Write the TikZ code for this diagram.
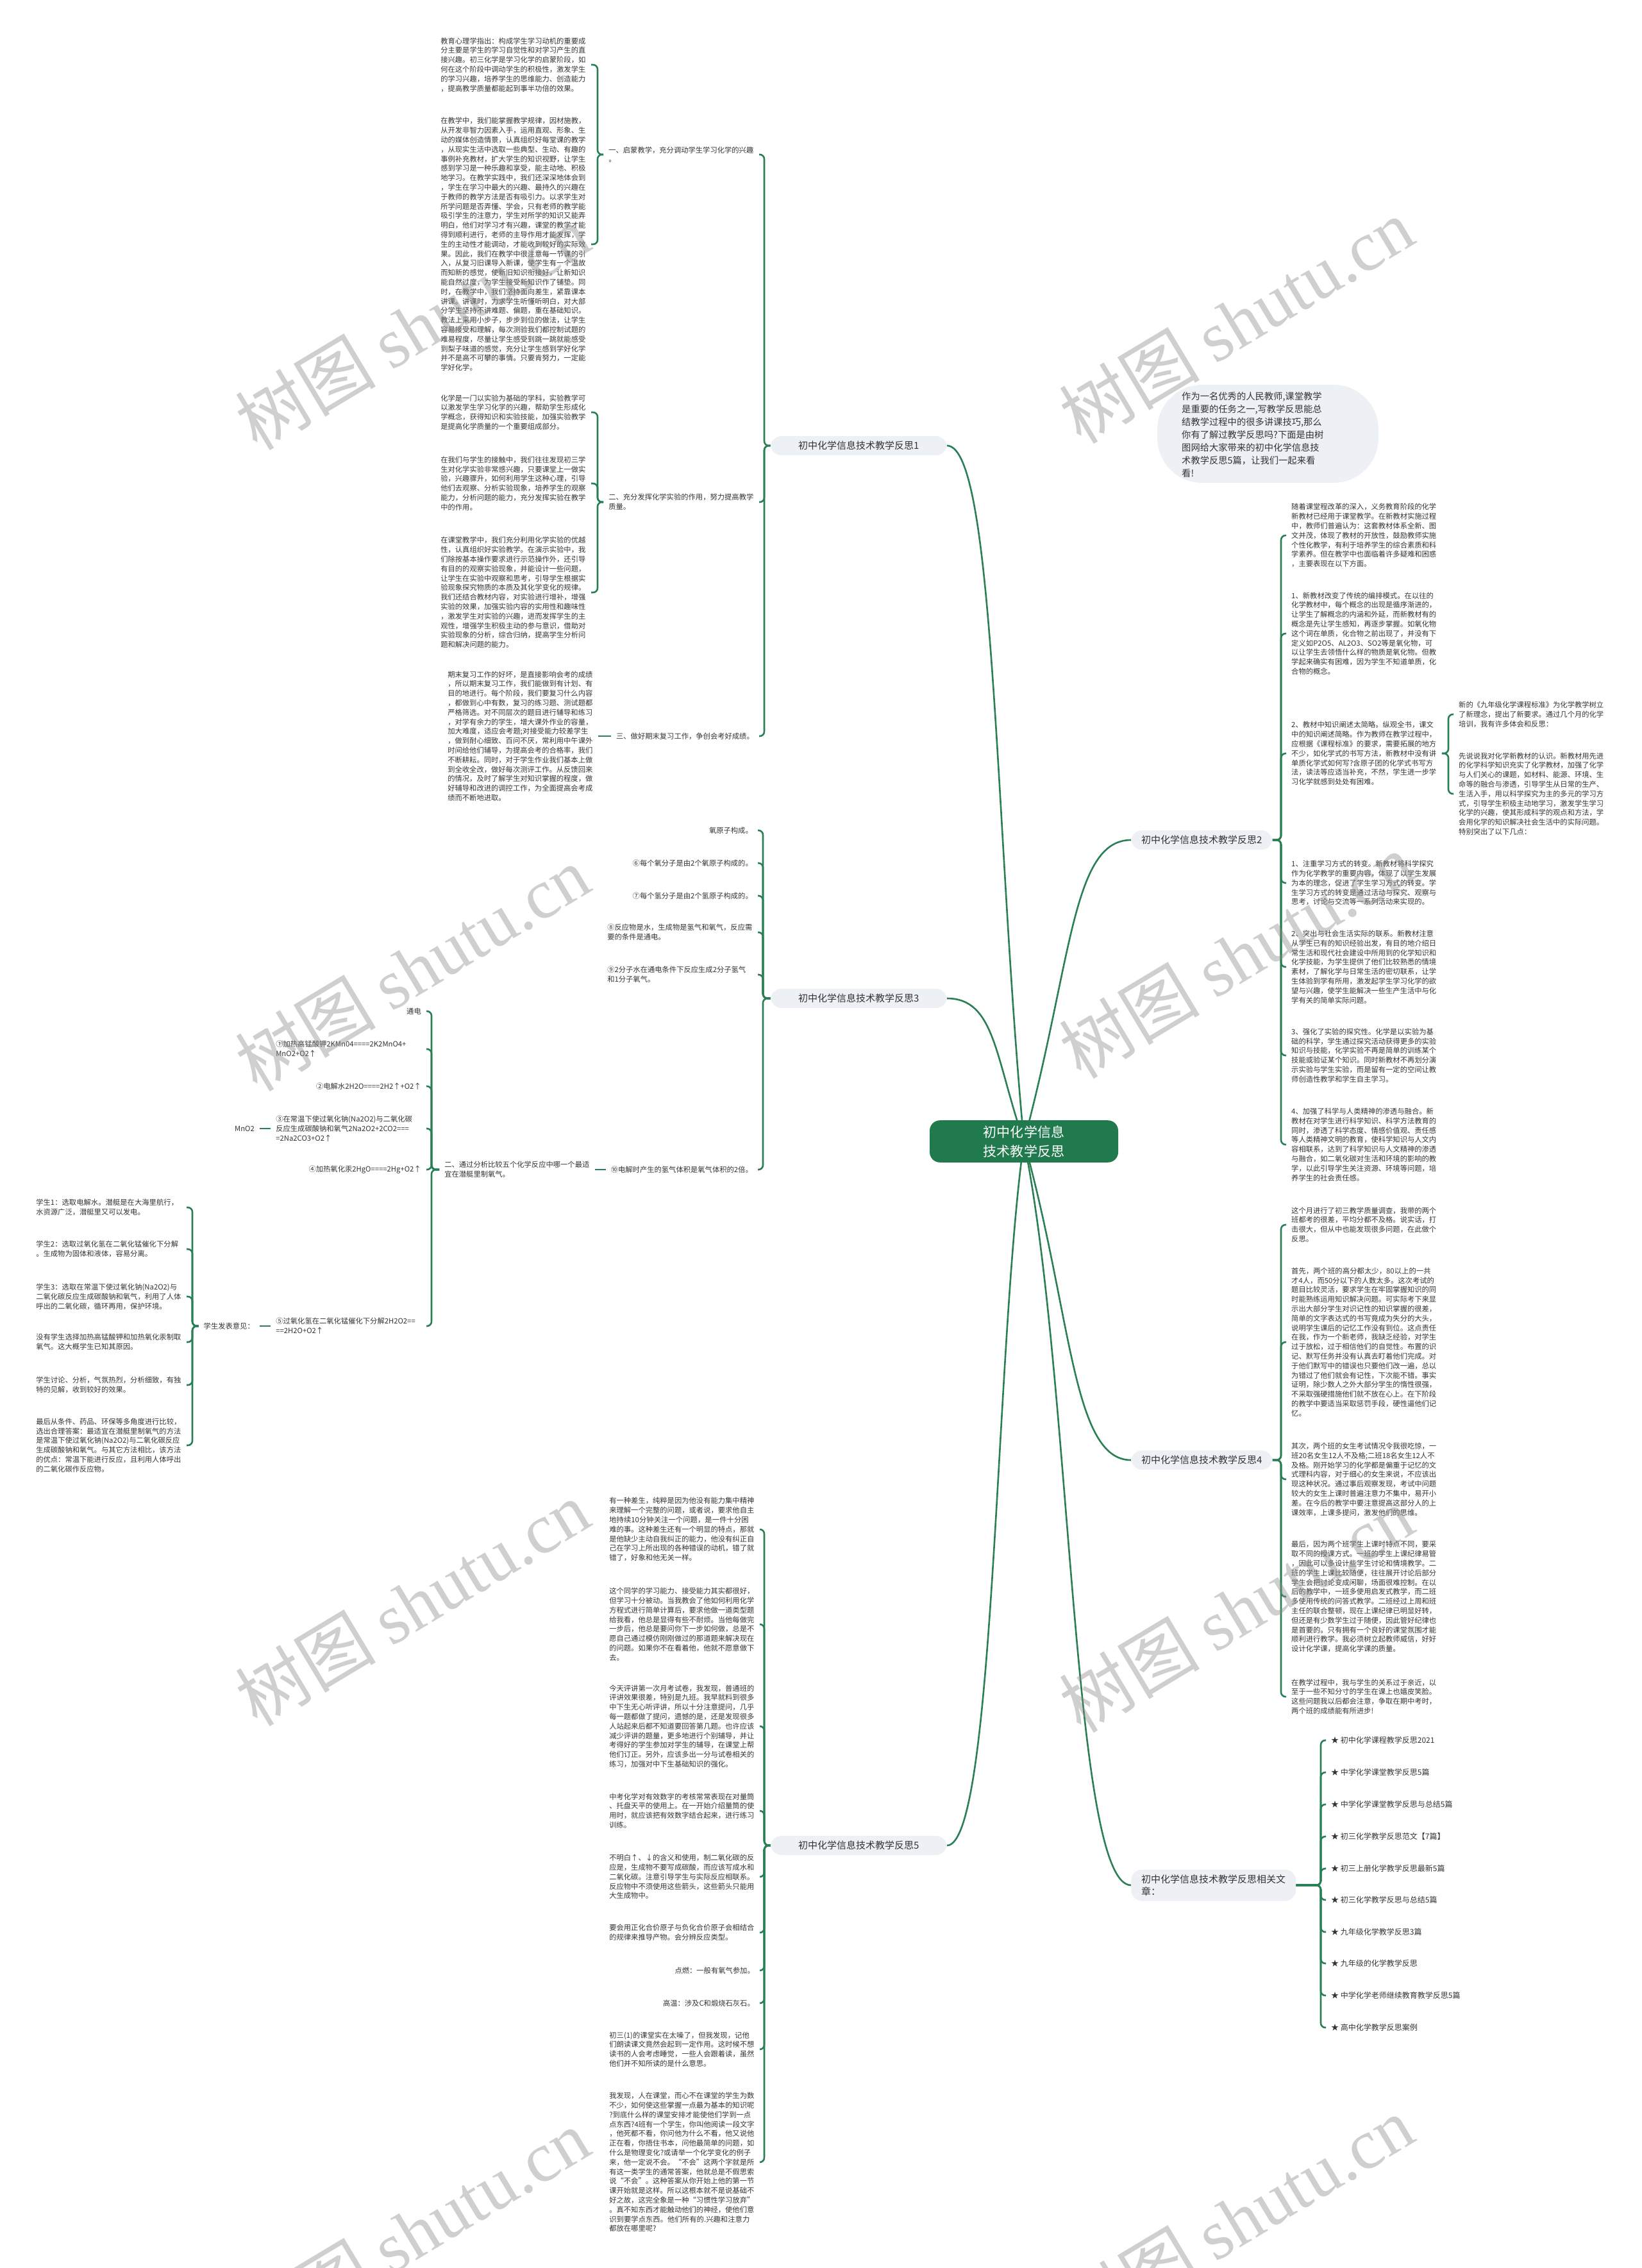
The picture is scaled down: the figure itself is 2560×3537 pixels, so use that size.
\documentclass[tikz,border=0pt]{standalone}
\usepackage{fontspec}
\setmainfont{Noto Sans CJK SC}
\newfontfamily\wmserif{Liberation Serif}
\usetikzlibrary{backgrounds}
\XeTeXinterchartokenstate=1
\newXeTeXintercharclass\CJKcls
\newcount\cjkc
\newcommand\setcjkrange[2]{\cjkc=#1\relax\loop\XeTeXcharclass\cjkc=\CJKcls\relax\ifnum\cjkc<#2\advance\cjkc by 1\repeat}
\setcjkrange{"3000}{"303F}
\setcjkrange{"4E00}{"9FFF}
\setcjkrange{"FF00}{"FFEF}
\setcjkrange{"2460}{"2473}
\setcjkrange{"2190}{"2193}
\XeTeXinterchartoks\CJKcls\CJKcls={\hskip0pt plus 0.2pt\relax}
\XeTeXinterchartoks 0 \CJKcls={\hskip0pt plus 0.2pt\relax}
\XeTeXinterchartoks\CJKcls 0 ={\hskip0pt plus 0.2pt\relax}
\newcommand\leaffont{\fontsize{11.3pt}{14.8pt}\selectfont}
\newcommand\lonefont{\fontsize{15pt}{19pt}\selectfont}
\newcommand\rootfont{\fontsize{21pt}{30pt}\selectfont}
\newcommand\introfont{\fontsize{14.3pt}{19.9pt}\selectfont}
\newcommand\relfont{\fontsize{12pt}{15pt}\selectfont}
\newcommand\wmfont{\fontsize{110pt}{115pt}\selectfont}
\definecolor{linec}{HTML}{2A7F55}
\definecolor{rootc}{HTML}{217A4E}
\definecolor{lonec}{HTML}{EDF0F4}
\definecolor{txt}{HTML}{333333}
\tikzset{
  conn/.style={draw=linec, line width=2.6pt, rounded corners=7pt},
  curv/.style={draw=linec, line width=2.6pt},
  lf/.style={text width=226.5pt, align=left, inner xsep=8pt, inner ysep=1pt, font=\leaffont, text=txt},
  lfL/.style={lf, anchor=east},
  lfR/.style={lf, anchor=west},
  sh/.style={align=left, inner xsep=8pt, inner ysep=1pt, font=\leaffont, text=txt},
  shL/.style={sh, anchor=east},
  rel/.style={anchor=west, inner xsep=8pt, inner ysep=1pt, font=\relfont, text=txt},
  lone/.style={fill=lonec, rounded corners=17pt, inner xsep=16pt, inner ysep=8pt, font=\lonefont, text=txt, align=left},
  loneL/.style={lone, anchor=east, minimum width=275pt},
  rootnode/.style={fill=rootc, text=white, rounded corners=16pt, font=\rootfont, text width=236pt, align=center, inner xsep=29pt, inner ysep=8pt},
  wm/.style={rotate=31, text=black!45, opacity=0.42, font=\wmfont, inner sep=0pt}
}
\begin{document}
\begin{tikzpicture}[x=1pt,y=-1pt]
\useasboundingbox (0,0) rectangle (2560,3537);

% root
\node[rootnode] (root) at (1597,1780) {初中化学信息技术教学反思};

% intro bubble
\fill[lonec, rounded corners=70pt] (1805,600) rectangle (2150,753);
\node[anchor=west, text width=232pt, align=left, inner sep=0pt, font=\introfont, text=txt] (intro) at (1843,678) {作为一名优秀的人民教师,课堂教学\\是重要的任务之一,写教学反思能总\\结教学过程中的很多讲课技巧,那么\\你有了解过教学反思吗?下面是由树\\图网给大家带来的初中化学信息技\\术教学反思5篇，让我们一起来看\\看!};

% ---------------- branch 1
\node[loneL] (b1) at (1477,695) {初中化学信息技术教学反思1};
\coordinate (s1) at (1192,695);
\node[lfL] (l1a) at (1184,241) {一、启蒙教学，充分调动学生学习化学的兴趣\\。};
\node[lfL] (l1b) at (1184,783) {二、充分发挥化学实验的作用，努力提高教学质量。};
\node[shL] (l1c) at (1184,1148) {三、做好期末复习工作，争创会考好成绩。};
\coordinate (sa) at (932,241);
\coordinate (sb) at (932,783);
\node[lfL] (t1a) at (922,101) {教育心理学指出：构成学生学习动机的重要成分主要是学生的学习自觉性和对学习产生的直接兴趣。初三化学是学习化学的启蒙阶段，如何在这个阶段中调动学生的积极性，激发学生的学习兴趣，培养学生的思维能力、创造能力，提高教学质量都能起到事半功倍的效果。};
\node[lfL] (t1b) at (922,381) {在教学中，我们能掌握教学规律，因材施教，从开发非智力因素入手，运用直观、形象、生动的媒体创造情景，认真组织好每堂课的教学，从现实生活中选取一些典型、生动、有趣的事例补充教材，扩大学生的知识视野，让学生感到学习是一种乐趣和享受，能主动地、积极地学习。在教学实践中，我们还深深地体会到，学生在学习中最大的兴趣、最持久的兴趣在于教师的教学方法是否有吸引力。以求学生对所学问题是否弄懂、学会，只有老师的教学能吸引学生的注意力，学生对所学的知识又能弄明白，他们对学习才有兴趣，课堂的教学才能得到顺利进行，老师的主导作用才能发挥，学生的主动性才能调动，才能收到较好的实际效果。因此，我们在教学中很注意每一节课的引入，从复习旧课导入新课，使学生有一个温故而知新的感觉，使新旧知识衔接好，让新知识能自然过度，为学生接受新知识作了铺垫。同时，在教学中，我们坚持面向差生，紧靠课本讲课。讲课时，力求学生听懂听明白，对大部分学生坚持不讲难题、偏题，重在基础知识。教法上采用小步子，步步到位的做法，让学生容易接受和理解，每次测验我们都控制试题的难易程度，尽量让学生感受到跳一跳就能感受到梨子味道的感觉，充分让学生感到学好化学并不是高不可攀的事情。只要肯努力，一定能学好化学。};
\node[lfL] (t2a) at (922,643) {化学是一门以实验为基础的学科，实验教学可以激发学生学习化学的兴趣，帮助学生形成化学概念，获得知识和实验技能，加强实验教学是提高化学质量的一个重要组成部分。};
\node[lfL] (t2b) at (922,754) {在我们与学生的接触中，我们往往发现初三学生对化学实验非常感兴趣，只要课堂上一做实验，兴趣骤升，如何利用学生这种心理，引导他们去观察、分析实验现象，培养学生的观察能力，分析问题的能力，充分发挥实验在教学中的作用。};
\node[lfL] (t2c) at (922,924) {在课堂教学中，我们充分利用化学实验的优越性，认真组织好实验教学。在演示实验中，我们除按基本操作要求进行示范操作外，还引导有目的的观察实验现象，并能设计一些问题，让学生在实验中观察和思考，引导学生根据实验现象探究物质的本质及其化学变化的规律。我们还结合教材内容，对实验进行增补，增强实验的效果，加强实验内容的实用性和趣味性，激发学生对实验的兴趣，进而发挥学生的主观性，增强学生积极主动的参与意识，借助对实验现象的分析，综合归纳，提高学生分析问题和解决问题的能力。};
\node[lfL] (t3a) at (933,1148) {期末复习工作的好坏，是直接影响会考的成绩，所以期末复习工作，我们能做到有计划、有目的地进行。每个阶段，我们要复习什么内容，都做到心中有数，复习的练习题、测试题都严格筛选。对不同层次的题目进行辅导和练习，对学有余力的学生，增大课外作业的容量，加大难度，适应会考题;对接受能力较差学生，做到耐心细致、百问不厌，常利用中午课外时间给他们辅导，为提高会考的合格率，我们不断耕耘。同时，对于学生作业我们基本上做到全收全改，做好每次测评工作。从反馈回来的情况，及时了解学生对知识掌握的程度，做好辅导和改进的调控工作，为全面提高会考成绩而不断地进取。};

% ---------------- branch 3
\node[loneL] (b3) at (1477,1557) {初中化学信息技术教学反思3};
\coordinate (s3) at (1190,1557);
\node[shL] (c3a) at (1182,1295) {氧原子构成。};
\node[shL] (c3b) at (1182,1346) {⑥每个氧分子是由2个氧原子构成的。};
\node[shL] (c3c) at (1182,1397) {⑦每个氢分子是由2个氢原子构成的。};
\node[lfL] (c3d) at (1182,1454) {⑧反应物是水，生成物是氢气和氧气，反应需要的条件是通电。};
\node[lfL] (c3e) at (1182,1520) {⑨2分子水在通电条件下反应生成2分子氢气\\和1分子氧气。};
\node[shL] (c3f) at (1182,1824) {⑩电解时产生的氢气体积是氧气体积的2倍。};
\node[lfL] (c3g) at (928,1824) {二、通过分析比较五个化学反应中哪一个最适宜在潜艇里制氧气。};
\coordinate (sg) at (673,1824);
\node[shL] (d1) at (665,1577) {通电};
\node[lfL] (d2) at (665,1636) {①加热高锰酸钾2KMn04====2K2MnO4+\\MnO2+O2↑};
\node[shL] (d3) at (665,1694) {②电解水2H2O====2H2↑+O2↑};
\node[lfL] (d4) at (665,1760) {③在常温下使过氧化钠(Na2O2)与二氧化碳\\反应生成碳酸钠和氧气2Na2O2+2CO2===\\=2Na2CO3+O2↑};
\node[shL] (mn) at (405,1760) {MnO2};
\node[shL] (d5) at (665,1824) {④加热氧化汞2HgO====2Hg+O2↑};
\node[lfL] (d6) at (665,2068) {⑤过氧化氢在二氧化锰催化下分解2H2O2==\\==2H2O+O2↑};
\node[shL] (e0) at (405,2068) {学生发表意见：};
\coordinate (se) at (300,2068);
\node[lfL] (e1) at (291,1883) {学生1：选取电解水。潜艇是在大海里航行，水资源广泛，潜艇里又可以发电。};
\node[lfL] (e2) at (291,1948) {学生2：选取过氧化氢在二氧化锰催化下分解。生成物为固体和液体，容易分离。};
\node[lfL] (e3) at (291,2022) {学生3：选取在常温下使过氧化钠(Na2O2)与二氧化碳反应生成碳酸钠和氧气，利用了人体呼出的二氧化碳，循环再用，保护环境。};
\node[lfL] (e4) at (291,2093) {没有学生选择加热高锰酸钾和加热氧化汞制取氧气。这大概学生已知其原因。};
\node[lfL] (e5) at (291,2160) {学生讨论、分析，气氛热烈，分析细致，有独特的见解，收到较好的效果。};
\node[lfL] (e6) at (291,2254) {最后从条件、药品、环保等多角度进行比较，选出合理答案：最适宜在潜艇里制氧气的方法是常温下使过氧化钠(Na2O2)与二氧化碳反应生成碳酸钠和氧气。与其它方法相比，该方法的优点：常温下能进行反应，且利用人体呼出的二氧化碳作反应物。};

% ---------------- branch 5
\node[loneL] (b5) at (1477,2878) {初中化学信息技术教学反思5};
\coordinate (s5) at (1192,2878);
\node[lfL] (f1) at (1185,2385) {有一种差生，纯粹是因为他没有能力集中精神来理解一个完整的问题，或者说，要求他自主地持续10分钟关注一个问题，是一件十分困难的事。这种差生还有一个明显的特点，那就是他缺少主动自我纠正的能力，他没有纠正自己在学习上所出现的各种错误的动机，错了就错了，好象和他无关一样。};
\node[lfL] (f2) at (1185,2533) {这个同学的学习能力、接受能力其实都很好，但学习十分被动。当我教会了他如何利用化学方程式进行简单计算后，要求他做一道类型题给我看，他总是显得有些不耐烦。当他每做完一步后，他总是要问你下一步如何做，总是不愿自己通过模仿刚刚做过的那道题来解决现在的问题。如果你不在看着他，他就不愿意做下去。};
\node[lfL] (f3) at (1185,2692) {今天评讲第一次月考试卷，我发现，普通班的评讲效果很差，特别是九班。我早就料到很多中下生无心听评讲，所以十分注意提问，几乎每一题都做了提问，遗憾的是，还是发现很多人站起来后都不知道要回答第几题。也许应该减少评讲的题量，更多地进行个别辅导，并让考得好的学生参加对学生的辅导，在课堂上帮他们订正。另外，应该多出一分与试卷相关的练习，加强对中下生基础知识的强化。};
\node[lfL] (f4) at (1185,2824) {中考化学对有效数字的考核常常表现在对量筒、托盘天平的使用上。在一开始介绍量筒的使用时，就应该把有效数字结合起来，进行练习训练。};
\node[lfL] (f5) at (1185,2927) {不明白↑、↓的含义和使用，制二氧化碳的反应是，生成物不要写成碳酸，而应该写成水和二氧化碳。注意引导学生与实际反应相联系。反应物中不须使用这些箭头，这些箭头只能用大生成物中。};
\node[lfL] (f6) at (1185,3014) {要会用正化合价原子与负化合价原子会相结合的规律来推导产物。会分辨反应类型。};
\node[shL] (f7) at (1185,3073) {点燃：一般有氧气参加。};
\node[shL] (f8) at (1185,3124) {高温：涉及C和煅烧石灰石。};
\node[lfL] (f9) at (1185,3196) {初三(1)的课堂实在太噪了，但我发现，记他们朗读课文竟然会起到一定作用。这时候不想读书的人会考虑睡觉，一些人会跟着读，虽然他们并不知所读的是什么意思。};
\node[lfL] (f10) at (1185,3372) {我发现，人在课堂，而心不在课堂的学生为数不少，如何使这些掌握一点最为基本的知识呢?到底什么样的课堂安排才能使他们学到一点点东西?4班有一个学生，你叫他阅读一段文字，他死都不看，你问他为什么不看，他又说他正在看，你捂住书本，问他最简单的问题，如什么是物理变化?或请举一个化学变化的例子来，他一定说不会。“不会”这两个字就是所有这一类学生的通常答案，他就总是不假思索说“不会”。这种答案从你开始上他的第一节课开始就是这样。所以这根本就不是说基础不好之故，这完全象是一种“习惯性学习放弃”。真不知东西才能触动他们的神经，使他们意识到要学点东西。他们所有的.兴趣和注意力都放在哪里呢?};

% ---------------- branch 2
\node[lone, anchor=west] (b2) at (1764,1310) {初中化学信息技术教学反思2};
\coordinate (s2) at (1998,1310);
\node[lfR] (g1) at (2006,835) {随着课堂程改革的深入，义务教育阶段的化学新教材已经用于课堂教学。在新教材实施过程中，教师们普遍认为：这套教材体系全新、图文并茂，体现了教材的开放性，鼓励教师实施个性化教学，有利于培养学生的综合素质和科学素养。但在教学中也面临着许多疑难和困惑，主要表现在以下方面。};
\node[lfR] (g2) at (2006,988) {1、新教材改变了传统的编排模式。在以往的化学教材中，每个概念的出现是循序渐进的，让学生了解概念的内涵和外延，而新教材有的概念是先让学生感知，再逐步掌握。如氧化物这个词在单质，化合物之前出现了，并没有下定义如P2O5、AL2O3、SO2等是氧化物，可以让学生去领悟什么样的物质是氧化物。但教学起来确实有困难，因为学生不知道单质，化合物的概念。};
\node[lfR] (g3) at (2006,1175) {2、教材中知识阐述太简略。纵观全书，课文中的知识阐述简略。作为教师在教学过程中，应根据《课程标准》的要求，需要拓展的地方不少，如化学式的书写方法，新教材中没有讲单质化学式如何写?含原子团的化学式书写方法，读法等应适当补充，不然，学生进一步学习化学就感到处处有困难。};
\coordinate (sh) at (2259,1175);
\node[lfR] (h1) at (2267,1114) {新的《九年级化学课程标准》为化学教学树立了新理念，提出了新要求。通过几个月的化学培训，我有许多体会和反思：};
\node[lfR] (h2) at (2267,1238) {先说说我对化学新教材的认识。新教材用先进的化学科学知识充实了化学教材，加强了化学与人们关心的课题，如材料、能源、环境、生命等的融合与渗透，引导学生从日常的生产、生活入手，用以科学探究为主的多元的学习方式，引导学生积极主动地学习，激发学生学习化学的兴趣，使其形成科学的观点和方法，学会用化学的知识解决社会生活中的实际问题。特别突出了以下几点：};
\node[lfR] (g4) at (2006,1377) {1、注重学习方式的转变。新教材将科学探究作为化学教学的重要内容，体现了以学生发展为本的理念，促进了学生学习方式的转变。学生学习方式的转变是通过活动与探究、观察与思考，讨论与交流等一系列活动来实现的。};
\node[lfR] (g5) at (2006,1508) {2、突出与社会生活实际的联系。新教材注意从学生已有的知识经验出发，有目的地介绍日常生活和现代社会建设中所用到的化学知识和化学技能，为学生提供了他们比较熟悉的情境素材，了解化学与日常生活的密切联系，让学生体验到学有所用，激发起学生学习化学的欲望与兴趣，使学生能解决一些生产生活中与化学有关的简单实际问题。};
\node[lfR] (g6) at (2006,1646) {3、强化了实验的探究性。化学是以实验为基础的科学，学生通过探究活动获得更多的实验知识与技能，化学实验不再是简单的训练某个技能或验证某个知识。同时新教材不再划分演示实验与学生实验，而是留有一定的空间让教师创造性教学和学生自主学习。};
\node[lfR] (g7) at (2006,1785) {4、加强了科学与人类精神的渗透与融合。新教材在对学生进行科学知识、科学方法教育的同时，渗透了科学态度、情感价值观、责任感等人类精神文明的教育，使科学知识与人文内容相联系，达到了科学知识与人文精神的渗透与融合，如二氧化碳对生活和环境的影响的教学，以此引导学生关注资源、环境等问题，培养学生的社会责任感。};

% ---------------- branch 4
\node[lone, anchor=west] (b4) at (1764,2277) {初中化学信息技术教学反思4};
\coordinate (s4) at (1998,2277);
\node[lfR] (k1) at (2006,1910) {这个月进行了初三教学质量调查，我带的两个班都考的很差，平均分都不及格。说实话，打击很大，但从中也能发现很多问题，在此做个反思。};
\node[lfR] (k2) at (2006,2093) {首先，两个班的高分都太少，80以上的一共才4人，而50分以下的人数太多。这次考试的题目比较灵活，要求学生在牢固掌握知识的同时能熟练运用知识解决问题。可实际考下来显示出大部分学生对识记性的知识掌握的很差，简单的文字表达式的书写竟成为失分的大头，说明学生课后的记忆工作没有到位。这点责任在我，作为一个新老师，我缺乏经验，对学生过于放松，过于相信他们的自觉性。布置的识记、默写任务并没有认真去盯着他们完成。对于他们默写中的错误也只要他们改一遍，总以为错过了他们就会有记性，下次能不错。事实证明，除少数人之外大部分学生的惰性很强，不采取强硬措施他们就不放在心上。在下阶段的教学中要适当采取惩罚手段，硬性逼他们记忆。};
\node[lfR] (k3) at (2006,2307) {其次，两个班的女生考试情况令我很吃惊，一班20名女生12人不及格;二班18名女生12人不及格。刚开始学习的化学都是偏重于记忆的文式理科内容，对于细心的女生来说，不应该出现这种状况。通过事后观察发现，考试中问题较大的女生上课时普遍注意力不集中，易开小差。在今后的教学中要注意提高这部分人的上课效率，上课多提问，激发他们的思维。};
\node[lfR] (k4) at (2006,2490) {最后，因为两个班学生上课时特点不同，要采取不同的授课方式。一班的学生上课纪律易管，因此可以多设计些学生讨论和情境教学。二班的学生上课比较随便，往往展开讨论后部分学生会把讨论变成闲聊，场面很难控制。在以后的教学中，一班多使用启发式教学，而二班多使用传统的问答式教学。二班经过上周和班主任的联合整顿，现在上课纪律已明显好转，但还是有少数学生过于随便，因此管好纪律也是首要的。只有拥有一个良好的课堂氛围才能顺利进行教学。我必须树立起教师威信，好好设计化学课，提高化学课的质量。};
\node[lfR] (k5) at (2006,2646) {在教学过程中，我与学生的关系过于亲近，以至于一些不知分寸的学生在课上也嬉皮笑脸。这些问题我以后都会注意，争取在期中考时，两个班的成绩能有所进步!};

% ---------------- related
\node[lone, anchor=west] (b6) at (1764,2940) {初中化学信息技术教学反思相关文\\章：};
\coordinate (s6) at (2060,2940);
\node[rel] (m1) at (2068,2714) {★ 初中化学课程教学反思2021};
\node[rel] (m2) at (2068,2764) {★ 中学化学课堂教学反思5篇};
\node[rel] (m3) at (2068,2814) {★ 中学化学课堂教学反思与总结5篇};
\node[rel] (m4) at (2068,2864) {★ 初三化学教学反思范文【7篇】};
\node[rel] (m5) at (2068,2914) {★ 初三上册化学教学反思最新5篇};
\node[rel] (m6) at (2068,2963) {★ 初三化学教学反思与总结5篇};
\node[rel] (m7) at (2068,3013) {★ 九年级化学教学反思3篇};
\node[rel] (m8) at (2068,3062) {★ 九年级的化学教学反思};
\node[rel] (m9) at (2068,3112) {★ 中学化学老师继续教育教学反思5篇};
\node[rel] (m10) at (2068,3162) {★ 高中化学教学反思案例};

% ---------------- connectors
\begin{scope}[on background layer]
\draw[curv] (root.center) .. controls (1552,1300) and (1552,695) .. (b1.east);
\draw[curv] (root.center) .. controls (1552,1650) and (1552,1557) .. (b3.east);
\draw[curv] (root.center) .. controls (1552,2100) and (1552,2878) .. (b5.east);
\draw[curv] (root.center) .. controls (1672,1500) and (1672,1310) .. (b2.west);
\draw[curv] (root.center) .. controls (1672,2050) and (1672,2277) .. (b4.west);
\draw[curv] (root.center) .. controls (1672,2150) and (1672,2940) .. (b6.west);

\foreach \c in {l1a,l1b,l1c} \draw[conn] (b1.west) -- (s1) |- (\c.east);
\foreach \c in {t1a,t1b} \draw[conn] (l1a.west) -- (sa) |- (\c.east);
\foreach \c in {t2a,t2b,t2c} \draw[conn] (l1b.west) -- (sb) |- (\c.east);
\draw[conn] (l1c.west) -- (t3a.east);

\foreach \c in {c3a,c3b,c3c,c3d,c3e,c3f} \draw[conn] (b3.west) -- (s3) |- (\c.east);
\draw[conn] (c3f.west) -- (c3g.east);
\foreach \c in {d1,d2,d3,d4,d5,d6} \draw[conn] (c3g.west) -- (sg) |- (\c.east);
\draw[conn] (d4.west) -- (mn.east);
\draw[conn] (d6.west) -- (e0.east);
\foreach \c in {e1,e2,e3,e4,e5,e6} \draw[conn] (e0.west) -- (se) |- (\c.east);

\foreach \c in {f1,f2,f3,f4,f5,f6,f7,f8,f9,f10} \draw[conn] (b5.west) -- (s5) |- (\c.east);

\foreach \c in {g1,g2,g3,g4,g5,g6,g7} \draw[conn] (b2.east) -- (s2) |- (\c.west);
\foreach \c in {h1,h2} \draw[conn] (g3.east) -- (sh) |- (\c.west);
\foreach \c in {k1,k2,k3,k4,k5} \draw[conn] (b4.east) -- (s4) |- (\c.west);
\foreach \c in {m1,m2,m3,m4,m5,m6,m7,m8,m9,m10} \draw[conn] (b6.east) -- (s6) |- (\c.west);
\end{scope}

% ---------------- watermarks
\foreach \wx/\wy [count=\i] in {643/510, 1928/500, 643/1510, 1928/1490, 643/2500, 1928/2510, 643/3480, 1928/3460}
  \node[wm] (wm\i) at (\wx,\wy) {树图 {\wmserif shutu.cn}};
\end{tikzpicture}
\end{document}
